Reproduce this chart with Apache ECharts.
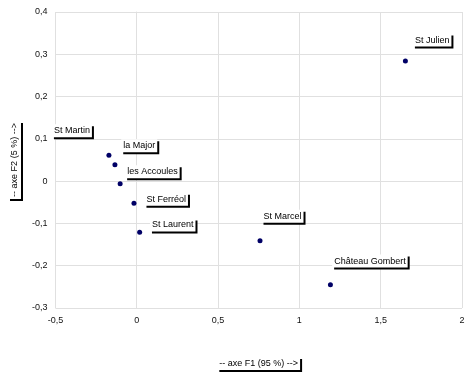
<!DOCTYPE html>
<html>
<head>
<meta charset="utf-8">
<script src="https://cdn.jsdelivr.net/npm/echarts@6/dist/echarts.min.js"></script>
<style>html,body{margin:0;padding:0;background:#fff}#c{width:472px;height:382px}</style>
</head>
<body>
<div id="c"></div>
<script>
var names = ['St Julien', 'St Martin', 'la Major', 'les Accoules', 'St Ferréol', 'St Laurent', 'St Marcel', 'Château Gombert'];
var f1 = [1.652, -0.171, -0.134, -0.102, -0.017, 0.018, 0.758, 1.191];
var f2 = [0.284, 0.061, 0.039, -0.006, -0.052, -0.121, -0.141, -0.245];
var xTitle = '-- axe F1 (95 %) -->';
var yTitle = '-- axe F2 (5 %) -->';

// label placement (style only)
var labelPos = [[10, -25], [-54.5, -28.7], [8.8, -23], [7.5, -16], [13, -8], [12.8, -11.3], [4, -28.4], [4.2, -27.7]];

var boxStyle = {
  fontFamily: 'Liberation Sans, Arial, sans-serif',
  fontSize: 9,
  lineHeight: 11,
  color: '#000',
  backgroundColor: '#fff',
  padding: [1, 2, 1, 2],
  shadowColor: '#000',
  shadowBlur: 0,
  shadowOffsetX: 2,
  shadowOffsetY: 2
};

var data = names.map(function (n, i) {
  return {
    name: n,
    value: [f1[i], f2[i]],
    label: Object.assign({
      show: true,
      position: labelPos[i],
      align: 'left',
      verticalAlign: 'top',
      formatter: '{b}'
    }, boxStyle)
  };
});

function fmt(v) { return String(Math.round(v * 10) / 10).replace('.', ','); }

var gridColor = '#e0e0e0';
var chart = echarts.init(document.getElementById('c'), null, {renderer: 'canvas'});
chart.setOption({
  animation: false,
  grid: {left: 53, right: 10, top: 12, bottom: 74, containLabel: false},
  xAxis: {
    type: 'value', min: -0.5, max: 2, interval: 0.5,
    name: xTitle, nameLocation: 'middle', nameGap: 49,
    nameTextStyle: Object.assign({}, boxStyle, {verticalAlign: 'top'}),
    axisLine: {show: true, lineStyle: {color: gridColor}},
    axisTick: {show: false},
    axisLabel: {formatter: fmt, color: '#111', fontSize: 9, fontFamily: 'Liberation Sans, Arial, sans-serif', margin: 8},
    splitLine: {show: true, lineStyle: {color: gridColor, width: 1}}
  },
  yAxis: {
    type: 'value', min: -0.3, max: 0.4, interval: 0.1,
    name: yTitle, nameLocation: 'middle', nameGap: 33, nameRotate: 90,
    nameTextStyle: Object.assign({}, boxStyle),
    axisLine: {show: true, lineStyle: {color: gridColor}},
    axisTick: {show: false},
    axisLabel: {formatter: fmt, color: '#111', fontSize: 9, fontFamily: 'Liberation Sans, Arial, sans-serif', margin: 8},
    splitLine: {show: true, lineStyle: {color: gridColor, width: 1}}
  },
  series: [{
    type: 'scatter',
    symbol: 'circle',
    symbolSize: 5,
    itemStyle: {color: '#000066', opacity: 1},
    data: data
  }]
});
</script>
</body>
</html>
